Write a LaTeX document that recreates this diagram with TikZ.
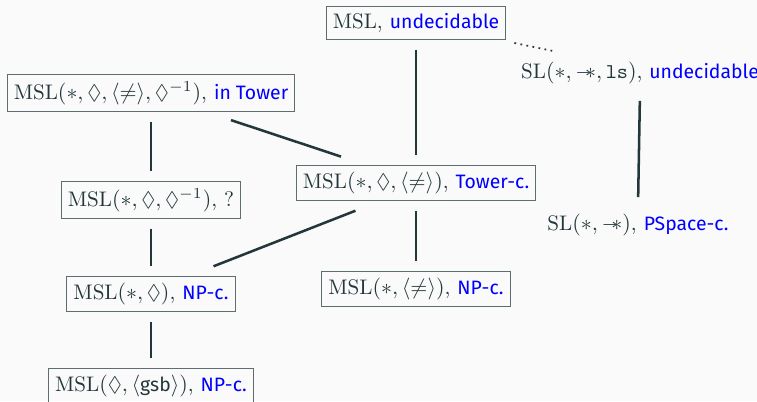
\documentclass[tikz,border=0pt]{standalone}
\usepackage{fontspec}
\setsansfont{Fira Sans}[Scale=0.92]
\usepackage{amsmath,amssymb}
\usetikzlibrary{calc}

\definecolor{slate}{HTML}{23373B}
\definecolor{paper}{HTML}{FAFAFA}
\definecolor{boxline}{HTML}{5E6D70}

% magic wand and the blue complexity labels
\newcommand{\sepimp}{\mathbin{-\!\!\ast}}
\newcommand{\cpx}[1]{\textcolor{blue}{\textsf{#1}}}

\begin{document}
\begin{tikzpicture}[
        x=0.016cm, y=-0.016cm, % one unit is one pixel of the slide
        font=\fontsize{9.6}{11}\selectfont,
        % Define a style for the framed logics
        logic/.style={draw=boxline,line width=0.5pt,inner sep=3pt,text=slate},
        % Define a style for the logics without a frame
        plainlogic/.style={inner sep=3pt,text=slate},
        % Define a style for the links between logics
        link/.style={slate,line width=1.15pt,shorten <=4.5pt,shorten >=4.5pt}
    ]

    % Background of the slide
    \fill[paper] (0,0) rectangle (757,401);
    \useasboundingbox (0,0) rectangle (757,401);

    % The logics
    \node[logic] (msl) at (416,23) {$\mathrm{MSL}$, \cpx{undecidable}};
    \node[plainlogic] (slls) at (640,73) {$\mathrm{SL}(\ast,\sepimp,\texttt{ls})$, \cpx{undecidable}};
    \node[logic] (intower) at (151,93) {$\mathrm{MSL}(\ast,\Diamond,\langle\neq\rangle,\Diamond^{-1})$, \cpx{in Tower}};
    \node[logic] (towerc) at (416,183) {$\mathrm{MSL}(\ast,\Diamond,\langle\neq\rangle)$, \cpx{Tower-c.}};
    \node[logic] (inv) at (151,200) {$\mathrm{MSL}(\ast,\Diamond,\Diamond^{-1})$, ?};
    \node[plainlogic] (sl) at (638,225) {$\mathrm{SL}(\ast,\sepimp)$, \cpx{PSpace-c.}};
    \node[logic] (npa) at (151,294) {$\mathrm{MSL}(\ast,\Diamond)$, \cpx{NP-c.}};
    \node[logic] (npb) at (416,289) {$\mathrm{MSL}(\ast,\langle\neq\rangle)$, \cpx{NP-c.}};
    \node[logic] (gsb) at (151,386) {$\mathrm{MSL}(\Diamond,\langle\textsf{gsb}\rangle)$, \cpx{NP-c.}};

    % The links
    \draw[link] (msl) -- (towerc);
    \draw[slate,line width=0.8pt,dotted] ($(msl.east)+(8,20)$) -- ($(slls.north)+(-87,-4)$);
    \draw[link] (slls.south) -- (sl.north);
    \draw[link] (intower) -- (inv);
    \draw[link,shorten <=12pt,shorten >=12pt] ($(intower.south)+(55,0)$) -- ($(towerc.north)+(-50,0)$);
    \draw[link] (inv) -- (npa);
    \draw[link,shorten <=12pt,shorten >=12pt] ($(towerc.south)+(-36,0)$) -- ($(npa.north)+(38,0)$);
    \draw[link] (towerc) -- (npb);
    \draw[link] (npa) -- (gsb);

\end{tikzpicture}
\end{document}
